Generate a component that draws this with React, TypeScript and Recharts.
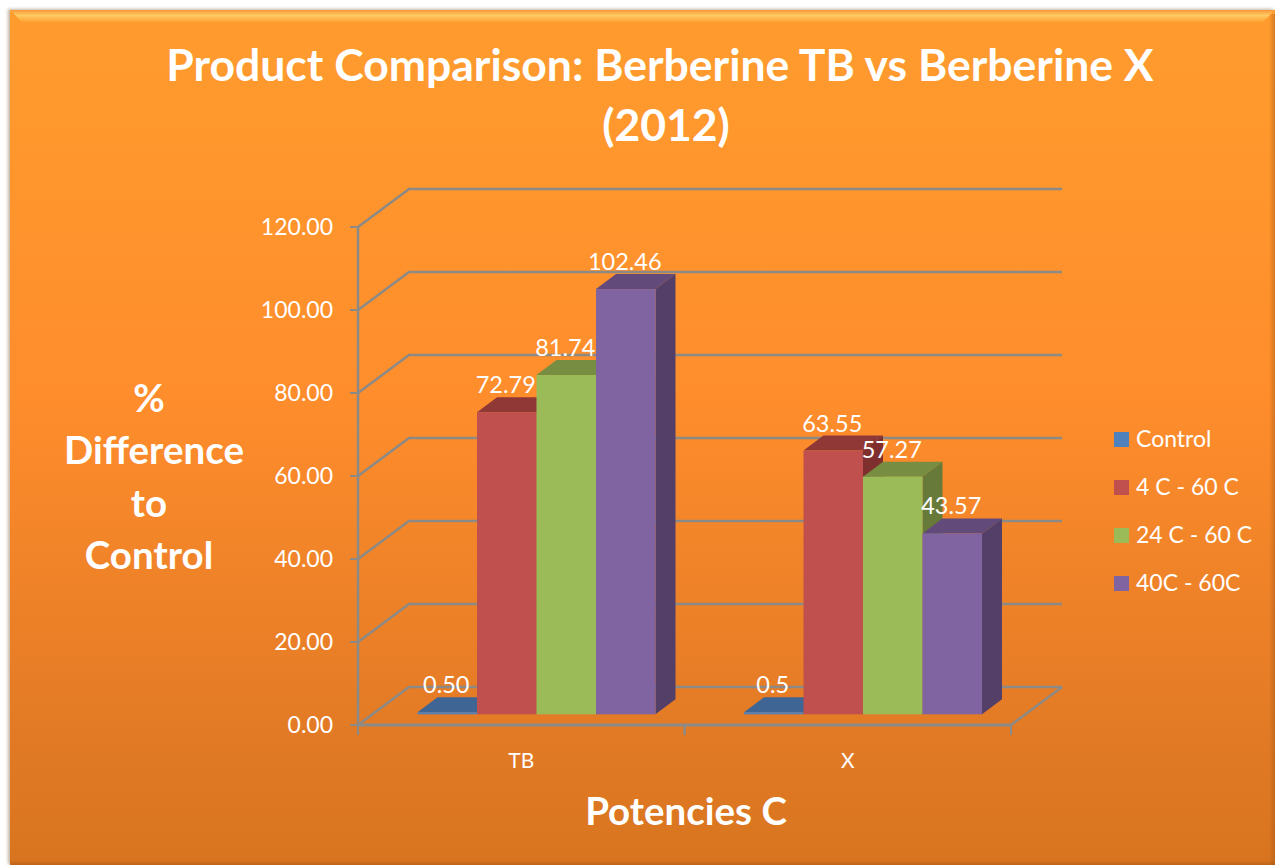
import React from 'react';
import {
  BarChart,
  Bar,
  XAxis,
  YAxis,
  CartesianGrid,
  Legend,
  LabelList
} from 'recharts';

const categories = ['TB', 'X'];
const controlValues = [0.5, 0.5];
const controlLabels = ['0.50', '0.5'];
const lowValues = [72.79, 63.55];
const midValues = [81.74, 57.27];
const highValues = [102.46, 43.57];
const yTicks = [0, 20, 40, 60, 80, 100, 120];
const yLabelLines = ['%', 'Difference', 'to', 'Control'];

const tableData = categories.map((name, i) => ({
  name,
  control: controlValues[i],
  controlLabel: controlLabels[i],
  low: lowValues[i],
  mid: midValues[i],
  high: highValues[i]
}));

const FONT = 'Lato, sans-serif';
const GRID = '#8b8a86';

// bars sit in the middle of the fake 3D floor
const BAR_SHIFT_X = 15.5;
const BAR_SHIFT_Y = -10.7;
const BAR_DEPTH_X = 20;
const BAR_DEPTH_Y = -15;
const WALL_X = 51;
const WALL_Y = -38;

const bar3d = (front: string, top: string, side: string) => (props: any) => {
  const x = props.x + BAR_SHIFT_X;
  const y = props.y + BAR_SHIFT_Y;
  const w = props.width;
  const h = props.height;
  return (
    <g>
      <polygon
        points={`${x},${y} ${x + BAR_DEPTH_X},${y + BAR_DEPTH_Y} ${x + w + BAR_DEPTH_X},${y + BAR_DEPTH_Y} ${x + w},${y}`}
        fill={top}
      />
      <polygon
        points={`${x + w},${y} ${x + w + BAR_DEPTH_X},${y + BAR_DEPTH_Y} ${x + w + BAR_DEPTH_X},${y + h + BAR_DEPTH_Y} ${x + w},${y + h}`}
        fill={side}
      />
      <rect x={x} y={y} width={w} height={h} fill={front} />
    </g>
  );
};

const barLabel = (props: any) => {
  const { x, y, width, value } = props;
  return (
    <text
      x={x + width / 2 + BAR_SHIFT_X - 1}
      y={y + BAR_SHIFT_Y - 28}
      textAnchor="middle"
      dominantBaseline="central"
      fill="#ffffff"
      fontFamily={FONT}
      fontSize={23.5}
    >
      {value}
    </text>
  );
};

// back wall line: goes up the side wall and then across
const wallLine = (props: any) => {
  const { x1, x2, y1, index } = props;
  const isFloor = y1 > 700;
  return (
    <g key={`wall-${index}`} fill="none" stroke={GRID} strokeWidth={2.5}>
      <polyline
        points={`${x1},${y1} ${x1 + WALL_X},${y1 + WALL_Y} ${x2 + WALL_X},${y1 + WALL_Y}`}
      />
      {isFloor && (
        <line x1={x2} y1={y1} x2={x2 + WALL_X} y2={y1 + WALL_Y} />
      )}
    </g>
  );
};

const categoryTick = (props: any) => {
  const { x, y, payload } = props;
  const half = payload.offset || 163.5;
  return (
    <g>
      <line x1={x - half} x2={x - half} y1={y - 8} y2={y + 2} stroke={GRID} strokeWidth={2} />
      <line x1={x + half} x2={x + half} y1={y - 8} y2={y + 2} stroke={GRID} strokeWidth={2} />
      <text
        x={x}
        y={y + 26}
        textAnchor="middle"
        dominantBaseline="central"
        fill="#ffffff"
        fontFamily={FONT}
        fontSize={21}
      >
        {payload.value}
      </text>
    </g>
  );
};

const legendContent = (props: any) => (
  <div>
    {props.payload.map((item: any) => (
      <div
        key={item.value}
        style={{ display: 'flex', alignItems: 'center', height: 48 }}
      >
        <span
          style={{ width: 15, height: 15, background: item.color, marginRight: 7, display: 'block' }}
        />
        <span style={{ color: '#ffffff', fontFamily: FONT, fontSize: 23, whiteSpace: 'nowrap', position: 'relative', top: -1 }}>
          {item.value}
        </span>
      </div>
    ))}
  </div>
);

const boldText: React.CSSProperties = {
  position: 'absolute',
  color: '#ffffff',
  fontFamily: FONT,
  fontWeight: 700,
  textAlign: 'center',
  whiteSpace: 'nowrap',
  transform: 'translate(-50%, -50%)'
};

const App: React.FC = () => {
  return (
    <div style={{ position: 'absolute', left: 0, top: 0, width: 1275, height: 865, overflow: 'hidden', background: '#ffffff' }}>
      {/* panel with the bevelled edges */}
      <div
        style={{
          position: 'absolute',
          left: 10,
          top: 10,
          right: 0,
          bottom: 0,
          background: 'linear-gradient(180deg, #ff9c2e 0%, #ff8d2c 45%, #e27a25 85%, #d8741f 100%)',
          boxShadow: '-2px -1px 3px rgba(120,90,50,0.45)'
        }}
      />
      <div
        style={{
          position: 'absolute',
          left: 10,
          top: 10,
          right: 0,
          height: 12,
          background: 'linear-gradient(180deg, #f9973a 0%, #ffcb62 45%, #ffa235 100%)',
          clipPath: 'polygon(0 0, 100% 0, calc(100% - 12px) 100%, 12px 100%)'
        }}
      />
      <div
        style={{
          position: 'absolute',
          right: 0,
          top: 14,
          bottom: 0,
          width: 6,
          background: 'linear-gradient(90deg, rgba(160,85,20,0), rgba(160,85,20,0.45))'
        }}
      />
      <div
        style={{
          position: 'absolute',
          left: 10,
          right: 0,
          bottom: 0,
          height: 5,
          background: 'linear-gradient(180deg, rgba(160,85,20,0), rgba(160,85,20,0.5))'
        }}
      />

      <div style={{ position: 'absolute', left: 0, top: 0 }}>
        <BarChart
          width={1275}
          height={865}
          data={tableData}
          margin={{ top: 227, right: 103, bottom: 100, left: 0 }}
          barGap={0}
          barSize={59.5}
        >
          <CartesianGrid vertical={false} horizontal={wallLine} />
          <XAxis
            dataKey="name"
            height={40}
            axisLine={{ stroke: GRID, strokeWidth: 3 }}
            tickLine={false}
            interval={0}
            tick={categoryTick}
          />
          <YAxis
            width={358}
            domain={[0, 120]}
            ticks={yTicks}
            interval={0}
            tickFormatter={(v: number) => v.toFixed(2)}
            axisLine={{ stroke: GRID, strokeWidth: 2.5 }}
            tickLine={{ stroke: GRID, strokeWidth: 2 }}
            tickSize={8}
            tickMargin={17}
            tick={{ fill: '#ffffff', fontFamily: FONT, fontSize: 23 }}
          />
          <Legend
            layout="vertical"
            align="right"
            verticalAlign="top"
            itemSorter={null}
            content={legendContent}
            wrapperStyle={{ left: 1114, top: 415, right: 'auto', width: 161 }}
          />
          <Bar
            dataKey="control"
            name="Control"
            fill="#4f81bd"
            shape={bar3d('#4f81bd', '#3e6594', '#385d8a')}
            isAnimationActive={false}
          >
            <LabelList dataKey="controlLabel" content={barLabel} />
          </Bar>
          <Bar
            dataKey="low"
            name="4 C - 60 C"
            fill="#c0504d"
            shape={bar3d('#c0504d', '#903836', '#7f302e')}
            isAnimationActive={false}
          >
            <LabelList dataKey="low" content={barLabel} />
          </Bar>
          <Bar
            dataKey="mid"
            name="24 C - 60 C"
            fill="#9bbb59"
            shape={bar3d('#9bbb59', '#778e42', '#677a3a')}
            isAnimationActive={false}
          >
            <LabelList dataKey="mid" content={barLabel} />
          </Bar>
          <Bar
            dataKey="high"
            name="40C - 60C"
            fill="#8064a2"
            shape={bar3d('#8064a2', '#624b7b', '#533f68')}
            isAnimationActive={false}
          >
            <LabelList dataKey="high" content={barLabel} />
          </Bar>
        </BarChart>
      </div>

      <div style={{ ...boldText, left: 660, top: 63, fontSize: 44.5 }}>
        Product Comparison: Berberine TB vs Berberine X
      </div>
      <div style={{ ...boldText, left: 666, top: 123, fontSize: 44.5 }}>(2012)</div>
      {yLabelLines.map((line, i) => (
        <div key={line} style={{ ...boldText, left: i === 1 ? 154 : 149, top: 397 + i * 52.3, fontSize: 38.5 }}>
          {line}
        </div>
      ))}
      <div style={{ ...boldText, left: 686, top: 810, fontSize: 38.5 }}>Potencies C</div>
    </div>
  );
};

export default App;
